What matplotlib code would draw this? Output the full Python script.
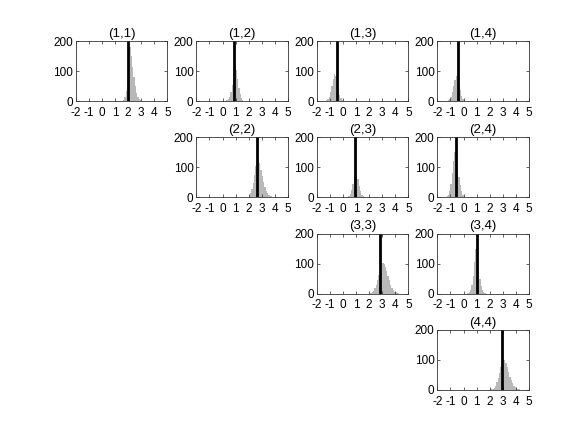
import matplotlib
matplotlib.use("Agg")
import matplotlib.pyplot as plt
import numpy as np

plt.rcParams['font.family'] = ['Liberation Sans', 'DejaVu Sans']
plt.rcParams['axes.unicode_minus'] = False

# ---- data ----
bin_width = 0.1
x_ticks = [-2, -1, 0, 1, 2, 3, 4, 5]
y_ticks = [0, 100, 200]

start_11 = 1.6
counts_11 = [5, 15, 35, 70, 190, 180, 150, 115, 80, 50, 28, 14, 6, 2]
line_11 = 2.0

start_12 = 0.3
counts_12 = [2, 6, 15, 30, 55, 90, 120, 105, 75, 45, 22, 10, 4, 1]
line_12 = 0.9

start_13 = -1.3
counts_13 = [2, 6, 15, 30, 50, 72, 90, 82, 60, 38, 20, 9, 3, 1]
line_13 = -0.5

start_14 = -1.2
counts_14 = [2, 6, 15, 30, 50, 70, 85, 78, 58, 36, 18, 8, 3, 1]
line_14 = -0.4

start_22 = 1.9
counts_22 = [2, 6, 14, 28, 48, 75, 105, 135, 132, 115, 92, 70, 50, 34, 22, 14, 8, 5, 3, 2, 1]
line_22 = 2.6

start_23 = 0.3
counts_23 = [2, 5, 12, 25, 45, 68, 85, 80, 60, 38, 20, 9, 3, 1]
line_23 = 0.9

start_24 = -1.3
counts_24 = [3, 9, 22, 45, 80, 120, 150, 130, 100, 68, 40, 20, 9, 3, 1]
line_24 = -0.55

start_33 = 2.1
counts_33 = [2, 5, 10, 18, 30, 45, 62, 80, 95, 102, 100, 90, 76, 60, 44, 30, 20, 12, 7, 4, 2, 1]
line_33 = 2.85

start_34 = 0.3
counts_34 = [2, 5, 12, 28, 60, 105, 150, 125, 85, 50, 26, 12, 5, 2]
line_34 = 1.0

start_44 = 2.1
counts_44 = [2, 4, 8, 15, 26, 40, 58, 78, 95, 105, 100, 90, 76, 60, 45, 32, 22, 14, 9, 5, 3, 2, 1]
line_44 = 2.95

panels = [
    ((1, 1), start_11, counts_11, line_11),
    ((1, 2), start_12, counts_12, line_12),
    ((1, 3), start_13, counts_13, line_13),
    ((1, 4), start_14, counts_14, line_14),
    ((2, 2), start_22, counts_22, line_22),
    ((2, 3), start_23, counts_23, line_23),
    ((2, 4), start_24, counts_24, line_24),
    ((3, 3), start_33, counts_33, line_33),
    ((3, 4), start_34, counts_34, line_34),
    ((4, 4), start_44, counts_44, line_44),
]

W, H = 584, 438
fig = plt.figure(figsize=(W / 100, H / 100), dpi=100)

col_left = [75.9, 196.4, 316.9, 437.4]
row_bottom = [101, 197.3, 293.6, 390]
ax_w, ax_h = 91.5, 60

for (r, c), start, counts, vline in panels:
    left = col_left[c - 1]
    bottom = row_bottom[r - 1]
    ax = fig.add_axes([left / W, (H - bottom) / H, ax_w / W, ax_h / H])
    counts = np.asarray(counts, dtype=float)
    edges = start + bin_width * np.arange(len(counts) + 1)
    centers = (edges[:-1] + edges[1:]) / 2
    ax.hist(centers, bins=edges, weights=counts, color='#b8b8b8',
            edgecolor='none', linewidth=0)
    ax.plot([vline, vline], [0, 200], color='black', linewidth=2.0)
    ax.set_xlim(-2, 5)
    ax.set_ylim(0, 200)
    ax.set_xticks(x_ticks)
    ax.set_yticks(y_ticks)
    ax.tick_params(direction='in', length=2.5, width=0.5, labelsize=8.5,
                   top=True, right=True, colors='#222222',
                   labelcolor='black')
    ax.tick_params(axis='x', pad=4)
    ax.tick_params(axis='y', pad=2)
    for sp in ax.spines.values():
        sp.set_linewidth(0.6)
        sp.set_color('#333333')
    ax.set_title(f"({r},{c})", fontsize=9.5, pad=3)

fig.savefig("out.png", dpi=100)
